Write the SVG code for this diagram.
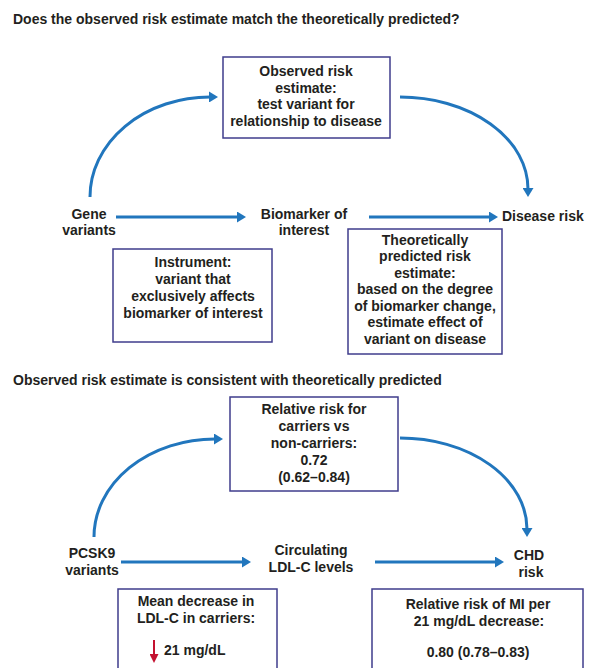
<svg xmlns="http://www.w3.org/2000/svg" width="596" height="668" viewBox="0 0 596 668">
<style>
text{font-family:"Liberation Sans",Arial,sans-serif;font-weight:bold;font-size:14px;fill:#231f20}
.c{text-anchor:middle}
.box{fill:#fff;stroke:#3f3d8c;stroke-width:1.5}
.arr{fill:none;stroke:#2176bd;stroke-width:3;marker-end:url(#ah)}
</style>
<defs>
<marker id="ah" markerUnits="userSpaceOnUse" viewBox="0 0 9 11" markerWidth="9" markerHeight="11" refX="1" refY="5.5" orient="auto"><path d="M0,0 L9,5.5 L0,11 z" fill="#2176bd"/></marker>
<marker id="rh" markerUnits="userSpaceOnUse" viewBox="0 0 9 9" markerWidth="9" markerHeight="9" refX="1" refY="4.5" orient="auto"><path d="M0,0 L9,4.5 L0,9 z" fill="#c41230"/></marker>
</defs>
<rect width="596" height="668" fill="#fff"/>
<text x="13" y="24">Does the observed risk estimate match the theoretically predicted?</text>
<text x="13" y="385">Observed risk estimate is consistent with theoretically predicted</text>

<g id="connectors">
<path class="arr" d="M90,197 A120,100 0 0 1 210,97"/>
<path class="arr" d="M400,97 A128,92 0 0 1 528,189"/>
<path class="arr" d="M116,217 H238"/>
<path class="arr" d="M369,217 H490"/>
<path class="arr" d="M94,537 A121,98 0 0 1 215,439"/>
<path class="arr" d="M400,438 A127,91 0 0 1 527,529"/>
<path class="arr" d="M121,562 H243"/>
<path class="arr" d="M375,562 H496"/>
</g>

<g id="observed">
<rect class="box" x="223" y="57" width="167" height="81"/>
<text class="c" x="306" y="76">Observed risk</text>
<text class="c" x="306" y="93">estimate:</text>
<text class="c" x="306" y="109">test variant for</text>
<text class="c" x="306" y="126">relationship to disease</text>
</g>
<g id="gene">
<text class="c" x="89" y="219">Gene</text>
<text class="c" x="89" y="235">variants</text>
</g>
<g id="biomarker">
<text class="c" x="304" y="219">Biomarker of</text>
<text class="c" x="304" y="235">interest</text>
</g>
<g id="disease">
<text x="502" y="221">Disease risk</text>
</g>
<g id="instrument">
<rect class="box" x="113" y="249" width="159" height="93"/>
<text class="c" x="193" y="267">Instrument:</text>
<text class="c" x="193" y="284">variant that</text>
<text class="c" x="193" y="301">exclusively affects</text>
<text class="c" x="193" y="318">biomarker of interest</text>
</g>
<g id="theoretical">
<rect class="box" x="348" y="229" width="154" height="125"/>
<text class="c" x="425" y="245">Theoretically</text>
<text class="c" x="425" y="261">predicted risk</text>
<text class="c" x="425" y="278">estimate:</text>
<text class="c" x="425" y="294">based on the degree</text>
<text class="c" x="425" y="311">of biomarker change,</text>
<text class="c" x="425" y="327">estimate effect of</text>
<text class="c" x="425" y="344">variant on disease</text>
</g>

<g id="relrisk">
<rect class="box" x="230" y="397" width="168" height="94"/>
<text class="c" x="314" y="414">Relative risk for</text>
<text class="c" x="314" y="431">carriers vs</text>
<text class="c" x="314" y="448">non-carriers:</text>
<text class="c" x="314" y="465">0.72</text>
<text class="c" x="314" y="482">(0.62–0.84)</text>
</g>
<g id="pcsk9">
<text class="c" x="92" y="558">PCSK9</text>
<text class="c" x="92" y="575">variants</text>
</g>
<g id="ldl">
<text class="c" x="311" y="555">Circulating</text>
<text class="c" x="311" y="572">LDL-C levels</text>
</g>
<g id="chd">
<text class="c" x="529" y="560">CHD</text>
<text class="c" x="531" y="577">risk</text>
</g>
<g id="meandecrease">
<rect class="box" x="118" y="589" width="159" height="100"/>
<text class="c" x="196" y="606">Mean decrease in</text>
<text class="c" x="196" y="623">LDL-C in carriers:</text>
<path d="M154,640 V655" stroke="#c41230" stroke-width="2" fill="none" marker-end="url(#rh)"/>
<text x="164" y="655">21 mg/dL</text>
</g>
<g id="relriskmi">
<rect class="box" x="372" y="589" width="211" height="100"/>
<text class="c" x="478" y="609">Relative risk of MI per</text>
<text class="c" x="479" y="626">21 mg/dL decrease:</text>
<text class="c" x="478" y="657">0.80 (0.78–0.83)</text>
</g>
</svg>
